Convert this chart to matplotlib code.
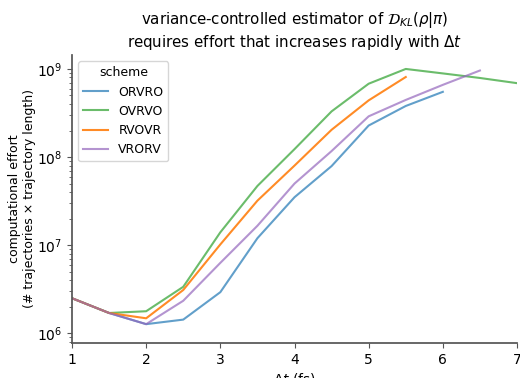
import numpy as np
import matplotlib
matplotlib.use("Agg")
import matplotlib.pyplot as plt

# time steps (fs)
dt = [1.0, 1.5, 2.0, 2.5, 3.0, 3.5, 4.0, 4.5, 5.0, 5.5, 6.0, 6.5, 7.0]

# computational effort per scheme
orvro = [2.5e6, 1.7e6, 1.27e6, 1.43e6, 2.93e6, 1.2e7, 3.5e7, 7.9e7, 2.28e8, 3.8e8, 5.5e8]
ovrvo = [2.5e6, 1.7e6, 1.78e6, 3.37e6, 1.4e7, 4.7e7, 1.23e8, 3.3e8, 6.8e8, 1.0e9, 8.9e8, 7.9e8, 6.9e8]
rvovr = [2.5e6, 1.7e6, 1.48e6, 3.1e6, 1.02e7, 3.2e7, 8.0e7, 2.04e8, 4.4e8, 8.1e8]
vrorv = [2.5e6, 1.7e6, 1.27e6, 2.34e6, 6.3e6, 1.66e7, 5.0e7, 1.17e8, 2.9e8, 4.45e8, 6.6e8, 9.6e8]

schemes = ["ORVRO", "OVRVO", "RVOVR", "VRORV"]
series = [orvro, ovrvo, rvovr, vrorv]
colors = ["#1f77b4", "#2ca02c", "#ff7f0e", "#9467bd"]
alphas = [0.7, 0.7, 0.9, 0.7]

fig = plt.figure(figsize=(5.2, 3.78), dpi=100)
ax = fig.add_axes([72 / 520, 1 - 343 / 378, 445 / 520, 288 / 378])

for name, ys, c, a in zip(schemes, series, colors, alphas):
    ax.plot(dt[:len(ys)], ys, color=c, alpha=a, lw=1.5, label=name)

ax.set_yscale("log")
ax.set_xlim(1, 7)
ax.set_ylim(7.76e5, 1.44e9)

for s in ["top", "right"]:
    ax.spines[s].set_visible(False)
for s in ["left", "bottom"]:
    ax.spines[s].set_color("#555555")
    ax.spines[s].set_linewidth(1.25)
ax.tick_params(colors="#555555", labelcolor="black", labelsize=10)
ax.tick_params(which="minor", colors="#555555")

ax.set_xlabel(r"$\Delta t$ (fs)", fontsize=10, labelpad=3)
ax.set_ylabel("computational effort\n(# trajectories × trajectory length)", fontsize=9)
ax.yaxis.set_label_coords(-0.082, 0.5)
ax.set_title("variance-controlled estimator of $\\mathcal{D}_{KL}(\\rho|\\pi)$\n"
             "requires effort that increases rapidly with $\\Delta t$", fontsize=10.8)
ax.legend(title="scheme", loc="upper left", fontsize=9, title_fontsize=9)

fig.savefig("out.png", dpi=100)
